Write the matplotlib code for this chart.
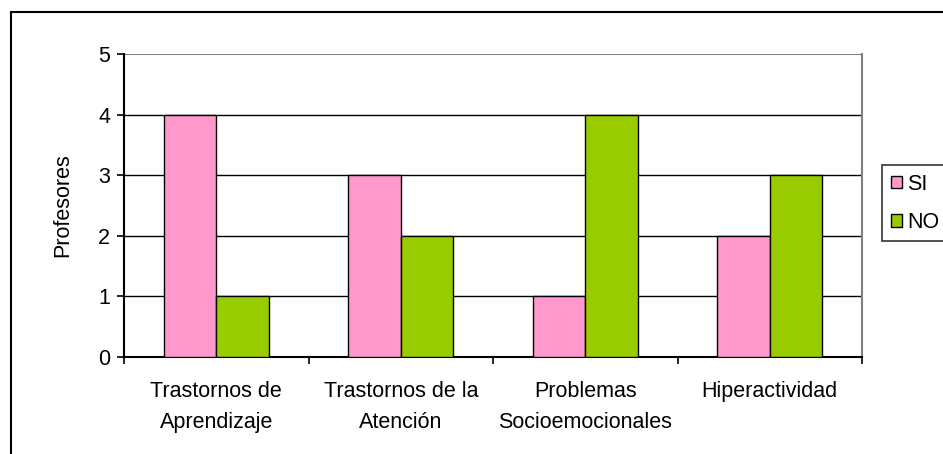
import matplotlib
matplotlib.use("Agg")
import matplotlib.pyplot as plt
import numpy as np
from matplotlib.patches import Rectangle, Patch

plt.rcParams['font.family'] = ['Liberation Sans', 'DejaVu Sans']

categories = ["Trastornos de\nAprendizaje", "Trastornos de la\nAtención",
              "Problemas\nSocioemocionales", "Hiperactividad"]
si_values = [4, 3, 1, 2]
no_values = [1, 2, 4, 3]
series_names = ["SI", "NO"]
colors = ["#FF99CC", "#99CC00"]

W, H = 943, 454
FS = 15.5
fig = plt.figure(figsize=(W / 100, H / 100), dpi=100)

# outer chart border
fig.patches.append(Rectangle((11 / W, -0.1), 1.2, 1.1 - 12 / H, transform=fig.transFigure,
                             fill=False, edgecolor="black", linewidth=1.5, clip_on=False))

ax = fig.add_axes([124 / W, 1 - 357 / H, (862 - 124) / W, (357 - 54) / H])

x = np.arange(len(categories))
bw = 1 / 3.5
ax.bar(x - bw / 2, si_values, bw, color=colors[0], edgecolor="black", linewidth=1.0,
       label=series_names[0], zorder=3)
ax.bar(x + bw / 2, no_values, bw, color=colors[1], edgecolor="black", linewidth=1.0,
       label=series_names[1], zorder=3)

ax.set_xlim(-0.5, len(categories) - 0.5)
ax.set_ylim(0, 5)
ax.set_yticks(range(6))
for yv in range(1, 5):
    ax.axhline(yv, color="black", linewidth=1.0, zorder=1)
ax.axhline(5, color="#808080", linewidth=1.5, zorder=1)

ax.set_xticks(x)
ax.set_xticklabels(categories, fontsize=FS, linespacing=1.65)
ax.tick_params(axis='x', length=0, pad=17)
ax.set_xticks(np.arange(len(categories) + 1) - 0.5, minor=True)
ax.tick_params(axis='x', which='minor', length=5, width=1.2, direction='out')
ax.tick_params(axis='y', length=5, width=1.2, direction='out', labelsize=FS, pad=5)

ax.spines['top'].set_visible(False)
ax.spines['right'].set_color("#808080")
ax.spines['right'].set_linewidth(1.5)
ax.spines['left'].set_linewidth(1.5)
ax.spines['bottom'].set_linewidth(1.5)

ax.set_ylabel("Profesores", fontsize=FS, labelpad=18)

handles = [Patch(facecolor=colors[0], edgecolor="black"), Patch(facecolor=colors[1], edgecolor="black")]
leg = fig.legend(handles, series_names, loc="upper left",
                 bbox_to_anchor=(882 / W, 1 - 165 / H), fontsize=FS,
                 frameon=True, fancybox=False, edgecolor="black",
                 handlelength=0.55, handleheight=0.55, handletextpad=0.2,
                 borderpad=0.4, labelspacing=0.8, borderaxespad=0)
leg.get_frame().set_linewidth(1.2)

fig.savefig("out.png", dpi=100)
